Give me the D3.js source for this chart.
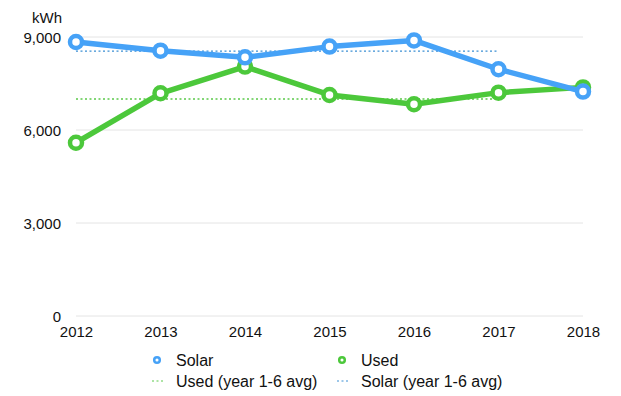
<!DOCTYPE html>
<html><head><meta charset="utf-8">
<script src="https://cdn.jsdelivr.net/npm/d3@7"></script>
<style>
body{margin:0;background:#fff;}
text{font-family:"Liberation Sans",Arial,Helvetica,sans-serif;}
</style></head>
<body><svg id="c" width="621" height="396"></svg>
<script>
const years = [2012, 2013, 2014, 2015, 2016, 2017, 2018];
const solar = [8840, 8560, 8345, 8690, 8890, 7960, 7240];
const used = [5590, 7185, 8045, 7130, 6830, 7205, 7375];
const yTicks = [0, 3000, 6000, 9000];
const avgYears = [2012, 2017];
const solarAvg = 8547;
const usedAvg = 7000;
const legendLabels = ["Solar", "Used", "Used (year 1-6 avg)", "Solar (year 1-6 avg)"];

const solarColor = "#46a2f7", usedColor = "#4cc83b";
const solarDot = "#3b8fd4", usedDot = "#5bc94a";
const FONT = "Liberation Sans, Arial, sans-serif";

const svg = d3.select("#c");
const x = d3.scaleLinear().domain([2012, 2018]).range([76, 583]);
const y = d3.scaleLinear().domain([0, 9000]).range([316, 37]);

// grid
svg.append("g").selectAll("line").data(yTicks).join("line")
  .attr("x1", x(2012)).attr("x2", x(2018))
  .attr("y1", d => y(d)).attr("y2", d => y(d))
  .attr("stroke", "#e4e4e4").attr("stroke-width", 1);

// y axis labels
const yAxis = d3.axisLeft(y).tickValues(yTicks).tickSize(0).tickPadding(0)
  .tickFormat(d3.format(","));
const yg = svg.append("g").attr("transform", `translate(61,0)`).call(yAxis);
yg.select(".domain").remove();
yg.selectAll("text").attr("font-size", 15).attr("fill", "#111")
  .attr("font-family", FONT).attr("dy", "0.35em");

svg.append("text").attr("x", 62).attr("y", 22.5).attr("text-anchor", "end")
  .attr("font-size", 15).attr("fill", "#111").text("kWh");

// x axis labels
const xAxis = d3.axisBottom(x).tickValues(years).tickSize(0).tickPadding(0)
  .tickFormat(d3.format("d"));
const xg = svg.append("g").attr("transform", `translate(0,326)`).call(xAxis);
xg.select(".domain").remove();
xg.selectAll("text").attr("font-size", 15).attr("fill", "#111")
  .attr("font-family", FONT).attr("dy", "0.71em");

// avg lines
function avgLine(v, c) {
  svg.append("line").attr("x1", x(avgYears[0])).attr("x2", x(avgYears[1]))
    .attr("y1", y(v)).attr("y2", y(v))
    .attr("stroke", c).attr("stroke-width", 1.3).attr("stroke-dasharray", "2,2.5");
}
avgLine(usedAvg, usedDot);
avgLine(solarAvg, solarDot);

const line = d3.line().x((d, i) => x(years[i])).y(d => y(d));
function series(vals, c) {
  svg.append("path").datum(vals).attr("d", line).attr("fill", "none")
    .attr("stroke", c).attr("stroke-width", 5.5).attr("stroke-linejoin", "round");
  svg.append("g").selectAll("circle").data(vals).join("circle")
    .attr("cx", (d, i) => x(years[i])).attr("cy", d => y(d)).attr("r", 6)
    .attr("fill", "#fff").attr("stroke", c).attr("stroke-width", 4.5);
}
series(used, usedColor);
series(solar, solarColor);

// legend
const lg = svg.append("g");
const lx1 = 157, lx2 = 342, ly1 = 360, ly2 = 381;
const leg = [
  {x: lx1, y: ly1, t: legendLabels[0], c: solarColor, type: "dot"},
  {x: lx2, y: ly1, t: legendLabels[1], c: usedColor, type: "dot"},
  {x: lx1, y: ly2, t: legendLabels[2], c: usedDot, type: "dash"},
  {x: lx2, y: ly2, t: legendLabels[3], c: solarDot, type: "dash"}
];
leg.forEach(l => {
  if (l.type === "dot") {
    lg.append("circle").attr("cx", l.x).attr("cy", l.y).attr("r", 2.8)
      .attr("fill", "#fff").attr("stroke", l.c).attr("stroke-width", 2.5);
  } else {
    lg.append("line").attr("x1", l.x - 5).attr("x2", l.x + 7).attr("y1", l.y).attr("y2", l.y)
      .attr("stroke", l.c).attr("stroke-width", 1).attr("stroke-dasharray", "2,2.5");
  }
  lg.append("text").attr("x", l.x + 19).attr("y", l.y).attr("dy", "0.35em")
    .attr("font-size", 16).attr("fill", "#111").text(l.t);
});
</script></body></html>
